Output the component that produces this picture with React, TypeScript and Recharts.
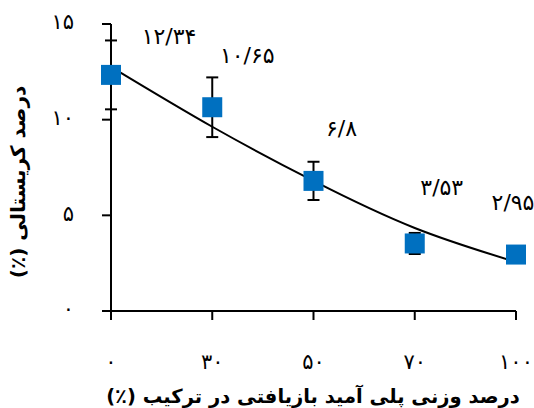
import React from "react";
import { LineChart, Line, XAxis, YAxis, ErrorBar, LabelList, Label } from "recharts";

// recycled polyamide loading (%) and measured crystallinity (%)
const loadings = [0, 30, 50, 70, 100];
const crystallinity = [12.34, 10.65, 6.8, 3.53, 2.95];
const errors = [1.8, 1.56, 1.0, 0.55, 0.3];
// trend curve at each category
const trendValues = [12.76, 9.63, 6.8, 4.34, 2.56];
const yTicks = [0, 5, 10, 15];

const xTitle = "درصد وزنی پلی آمید بازیافتی در ترکیب (٪)";
const yTitle = "درصد کریستالی (٪)";

const FONT = "'DejaVu Sans', sans-serif";
const BLUE = "#0070C0";

const toFa = (s: string) => s.replace(/\d/g, (d) => "۰۱۲۳۴۵۶۷۸۹"[Number(d)]);

const data = loadings.map((x, i) => ({
  x: toFa(String(x)),
  value: crystallinity[i],
  err: errors[i],
  trend: trendValues[i],
}));

// label placement relative to each marker
const labelOffsets = [
  [58, -38],
  [35, -52],
  [28, -52],
  [27, -56],
  [-3, -52],
];

const ValueLabel = (props: any) => {
  const { x, y, index, value } = props;
  const [dx, dy] = labelOffsets[index] || [0, -40];
  return (
    <text
      x={x + dx}
      y={y + dy}
      textAnchor="middle"
      dominantBaseline="central"
      fontSize={22}
      fontFamily={FONT}
      fill="#000"
    >
      {toFa(String(value).replace(".", "/"))}
    </text>
  );
};

const SquareDot = (props: any) => {
  const { cx, cy, index } = props;
  return <rect key={`sq-${index}`} x={cx - 10} y={cy - 10} width={20} height={20} fill={BLUE} />;
};

export default function App() {
  return (
    <div style={{ position: "absolute", left: 0, top: 0, background: "#fff" }}>
      <LineChart
        width={534}
        height={408}
        data={data}
        margin={{ top: 24, right: 18, bottom: 57, left: 41 }}
      >
        <XAxis
          dataKey="x"
          height={40}
          axisLine={{ stroke: "#000", strokeWidth: 2 }}
          tickLine={{ stroke: "#000", strokeWidth: 2 }}
          tickSize={9}
          tickMargin={34}
          tick={{ fill: "#000", fontSize: 21, fontFamily: FONT }}
          interval={0}
        >
          <Label
            content={() => (
              <text
                x={313}
                y={396}
                textAnchor="middle"
                dominantBaseline="central"
                direction="rtl"
                fontSize={19.5}
                fontWeight="bold"
                fontFamily={FONT}
                fill="#000"
              >
                {xTitle}
              </text>
            )}
          />
        </XAxis>
        <YAxis
          width={70}
          domain={[0, 15]}
          ticks={yTicks}
          tickFormatter={(v: number) => toFa(String(v))}
          axisLine={{ stroke: "#000", strokeWidth: 2 }}
          tickLine={{ stroke: "#000", strokeWidth: 2 }}
          tickSize={9}
          tickMargin={28}
          tick={{ fill: "#000", fontSize: 21, fontFamily: FONT, dy: -2 }}
        >
          <Label
            content={() => (
              <text
                x={18}
                y={182}
                transform="rotate(-90 18 182)"
                textAnchor="middle"
                dominantBaseline="central"
                direction="rtl"
                fontSize={20}
                fontWeight="bold"
                fontFamily={FONT}
                fill="#000"
              >
                {yTitle}
              </text>
            )}
          />
        </YAxis>
        <Line
          dataKey="value"
          stroke="none"
          dot={SquareDot}
          activeDot={false}
          isAnimationActive={false}
        >
          <ErrorBar dataKey="err" width={6} strokeWidth={2} stroke="#000" direction="y" />
          <LabelList dataKey="value" content={ValueLabel} />
        </Line>
        <Line
          dataKey="trend"
          type="natural"
          stroke="#000"
          strokeWidth={2}
          dot={false}
          activeDot={false}
          isAnimationActive={false}
        />
      </LineChart>
    </div>
  );
}
